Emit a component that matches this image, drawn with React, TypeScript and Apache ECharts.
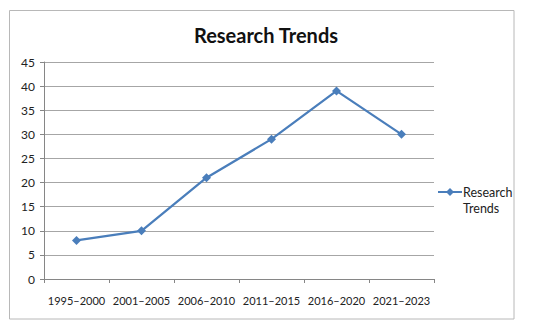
import React, { useEffect, useRef } from "react";
import * as echarts from "echarts";

const categories = ["1995–2000", "2001–2005", "2006–2010", "2011–2015", "2016–2020", "2021–2023"];
const values = [8, 10, 21, 29, 39, 30];
const seriesName = "Research Trends";
const titleText = "Research Trends";

export default function App() {
  const ref = useRef<HTMLDivElement>(null);
  useEffect(() => {
    if (!ref.current) return;
    const chart = echarts.init(ref.current, undefined, { renderer: "svg" });
    const font = "Lato, 'Open Sans', sans-serif";
    chart.setOption({
      animation: false,
      backgroundColor: "#ffffff",
      textStyle: { fontFamily: font },
      title: {
        text: titleText,
        left: 261,
        textAlign: "center",
        top: 20,
        textStyle: { fontSize: 20, fontWeight: "bold", color: "#111", fontFamily: font },
      },
      graphic: [
        {
          type: "rect",
          shape: { x: 9.5, y: 10.5, width: 504.5, height: 308.5 },
          style: { fill: "none", stroke: "#b8b8b8", lineWidth: 1 },
          silent: true,
        },
        {
          type: "line",
          shape: { x1: 438, y1: 192, x2: 462, y2: 192 },
          style: { stroke: "#4a7ebb", lineWidth: 2 },
        },
        {
          type: "polygon",
          shape: { points: [[450, 188], [454, 192], [450, 196], [446, 192]] },
          style: { fill: "#4a7ebb" },
        },
        {
          type: "text",
          x: 463,
          y: 192,
          style: {
            text: "Research\nTrends",
            fill: "#222",
            font: `12.5px ${font}`,
            lineHeight: 16,
            verticalAlign: "top",
            y: -8,
          },
        },
      ],
      grid: { left: 44, top: 62, width: 390, height: 217, containLabel: false },
      xAxis: {
        type: "category",
        data: categories,
        boundaryGap: true,
        axisLine: { lineStyle: { color: "#868686", width: 1 } },
        axisTick: { show: true, alignWithLabel: false, interval: 0, length: 4, lineStyle: { color: "#868686" } },
        axisLabel: { color: "#222", fontSize: 11, margin: 16, interval: 0, fontFamily: font },
        splitLine: { show: false },
      },
      yAxis: {
        type: "value",
        min: 0,
        max: 45,
        interval: 5,
        axisLine: { show: true, lineStyle: { color: "#868686", width: 1 } },
        axisTick: { show: true, length: 4, lineStyle: { color: "#868686" } },
        axisLabel: { color: "#222", fontSize: 12, margin: 9, fontFamily: font },
        splitLine: { show: true, lineStyle: { color: "#a6a6a6", width: 1 } },
      },
      legend: { show: false },
      series: [
        {
          name: seriesName,
          type: "line",
          data: values,
          symbol: "diamond",
          symbolSize: 9,
          lineStyle: { color: "#4a7ebb", width: 2.25 },
          itemStyle: { color: "#4a7ebb" },
        },
      ],
    });
    return () => chart.dispose();
  }, []);
  return (
    <div
      ref={ref}
      style={{ position: "fixed", left: 0, top: 0, width: 550, height: 332 }}
    />
  );
}
